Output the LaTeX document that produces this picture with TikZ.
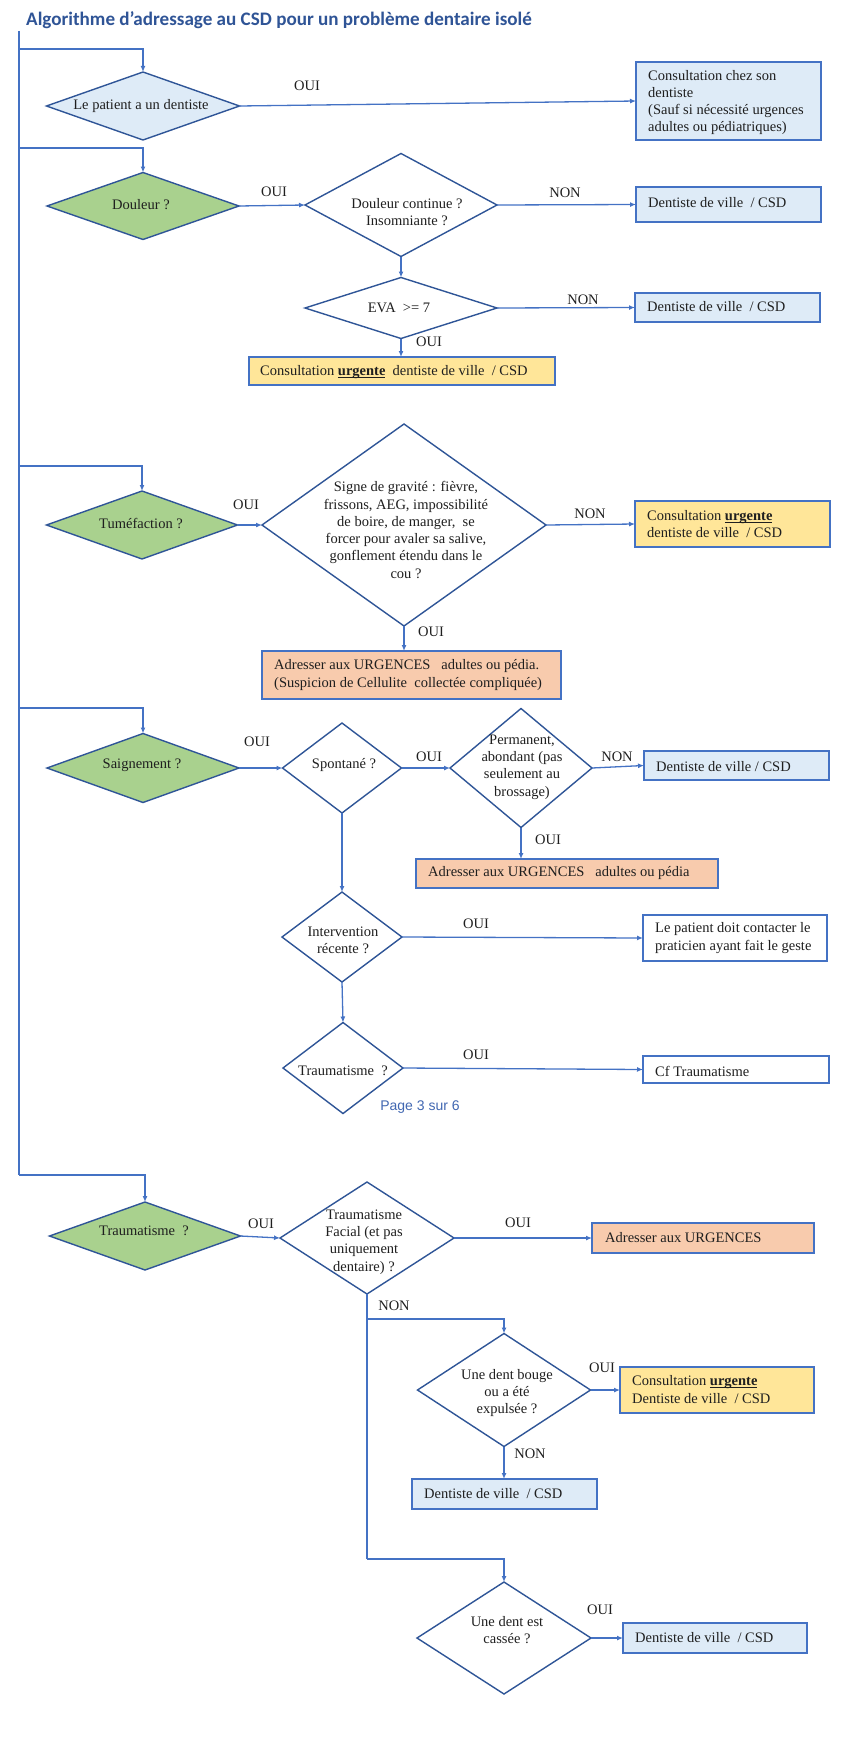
\documentclass[tikz,border=0pt]{standalone}
\usepackage{fontspec}
\setmainfont{Liberation Serif}
\newfontfamily\titlefont{Carlito}
\newfontfamily\pagefont{Liberation Sans}
\usetikzlibrary{shapes.geometric,arrows.meta,fit}
\definecolor{lnc}{HTML}{4472C4}
\definecolor{dkc}{HTML}{2F5597}
\definecolor{lbc}{HTML}{DEEBF7}
\definecolor{grc}{HTML}{A9D18E}
\definecolor{yec}{HTML}{FFE699}
\definecolor{orc}{HTML}{F8CBAD}
\definecolor{ttlc}{HTML}{2F5496}
\definecolor{pgc}{HTML}{4167B1}
\newsavebox\urgbox
\newcommand\urg{\sbox\urgbox{\textbf{urgente}}\usebox\urgbox\llap{\rule[-2.2pt]{\wd\urgbox}{0.9pt}}}
\begin{document}
\begin{tikzpicture}[x=1pt,y=-1pt,
 dia/.style={diamond, draw=dkc, line width=1.4pt, inner sep=0pt, outer sep=0pt},
 bx/.style={rectangle, draw=lnc, line width=1.3pt, inner sep=0pt, outer sep=0pt},
 tx/.style={inner sep=0pt, align=center, font=\fontsize{14.5}{17.3}\selectfont, text=black!88},
 txl/.style={tx, anchor=west, align=left},
 arr/.style={draw=lnc, line width=1.3pt, -{Latex[length=6pt,width=5pt]}},
 conn/.style={draw=lnc, line width=1.3pt}]
\useasboundingbox (0,0) rectangle (850,1758);

% title
\node[anchor=west, inner sep=0pt, text=ttlc, font=\titlefont\bfseries\fontsize{19.1}{22}\selectfont] (title) at (26,20) {Algorithme d’adressage au CSD pour un problème dentaire isolé};

% ---------- row 1
\node[dia, fill=lbc, minimum width=193pt, minimum height=68pt] (d1) at (143,106) {};
\node[tx] (d1t) at (141,106) {Le patient a un dentiste};
\node[bx, fill=lbc, fit={(636,62) (821,140)}] (b1) {};
\node[txl] (b1t) at (648,102.5) {Consultation chez son\\dentiste\\(Sauf si nécessité urgences\\adultes ou pédiatriques)};
\node[tx] (l1) at (307,86) {OUI};

% ---------- row 2
\node[dia, fill=grc, minimum width=192pt, minimum height=67pt] (g2) at (143,206) {};
\node[tx] (g2t) at (141,205) {Douleur ?};
\node[dia, fill=white, minimum width=192pt, minimum height=103pt] (q2a) at (401,205) {};
\node[tx] (q2at) at (407,212) {Douleur continue ?\\Insomniante ?};
\node[bx, fill=lbc, fit={(636,187) (821,222)}] (b2a) {};
\node[txl] (b2at) at (648,203) {Dentiste de ville \ / CSD};
\node[dia, fill=white, minimum width=192pt, minimum height=61pt] (q2b) at (401,308) {};
\node[tx] (q2bt) at (399,308) {EVA \ >= 7};
\node[bx, fill=lbc, fit={(635,293) (820,322)}] (b2b) {};
\node[txl] (b2bt) at (647,307) {Dentiste de ville \ / CSD};
\node[bx, fill=yec, fit={(249,357) (555,385)}] (y2) {};
\node[txl] (y2t) at (260,372) {Consultation \urg{} \ dentiste de ville \ / CSD};
\node[tx] (l2a) at (274,192) {OUI};
\node[tx] (l2b) at (565,193) {NON};
\node[tx] (l2c) at (583,300) {NON};
\node[tx] (l2d) at (429,342) {OUI};

% ---------- row 3
\node[dia, fill=grc, minimum width=191pt, minimum height=68pt] (g3) at (142,525) {};
\node[tx] (g3t) at (141,523) {Tuméfaction ?};
\node[dia, fill=white, minimum width=284pt, minimum height=202pt] (q3) at (404,525) {};
\node[tx] (q3t) at (406,530) {Signe de gravité : fièvre,\\frissons, AEG, impossibilité\\de boire, de manger, \ se\\forcer pour avaler sa salive,\\gonflement étendu dans le\\cou ?};
\node[bx, fill=yec, fit={(635,501) (830,547)}] (b3) {};
\node[txl] (b3t) at (647,524) {Consultation \urg\\dentiste de ville \ / CSD};
\node[bx, fill=orc, fit={(262,651) (561,699)}] (o3) {};
\node[txl] (o3t) at (274,675) {Adresser aux URGENCES \ \ adultes ou pédia.\\(Suspicion de Cellulite \ collectée compliquée)};
\node[tx] (l3a) at (246,505) {OUI};
\node[tx] (l3b) at (590,514) {NON};
\node[tx] (l3c) at (431,632) {OUI};

% ---------- row 4
\node[dia, fill=grc, minimum width=192pt, minimum height=69pt] (g4) at (143,768) {};
\node[tx] (g4t) at (142,765) {Saignement ?};
\node[dia, fill=white, minimum width=119pt, minimum height=90pt] (q4a) at (342,768) {};
\node[tx] (q4at) at (344,765) {Spontané ?};
\node[dia, fill=white, minimum width=142pt, minimum height=119pt] (q4b) at (521,768) {};
\node[tx] (q4bt) at (522,767) {Permanent,\\abondant (pas\\seulement au\\brossage)};
\node[bx, fill=lbc, fit={(644,751) (829,780)}] (b4a) {};
\node[txl] (b4at) at (656,767) {Dentiste de ville / CSD};
\node[bx, fill=orc, fit={(416,859) (718,888)}] (o4) {};
\node[txl] (o4t) at (428,873) {Adresser aux URGENCES \ \ adultes ou pédia};
\node[dia, fill=white, minimum width=120pt, minimum height=90pt] (q4c) at (342,937) {};
\node[tx] (q4ct) at (343,940) {Intervention\\récente ?};
\node[bx, fill=white, fit={(643,915) (827,961)}] (b4c) {};
\node[txl] (b4ct) at (655,938) {Le patient doit contacter le\\praticien ayant fait le geste};
\node[dia, fill=white, minimum width=120pt, minimum height=91pt] (q4d) at (343,1068) {};
\node[tx] (q4dt) at (343,1071) {Traumatisme \ ?};
\node[bx, fill=white, fit={(643,1056) (829,1083)}] (b4d) {};
\node[txl] (b4dt) at (655,1071) {Cf Traumatisme};
\node[inner sep=0pt, text=pgc, font=\pagefont\fontsize{14}{16}\selectfont] (page) at (420,1107) {Page 3 sur 6};
\node[tx] (l4a) at (257,742) {OUI};
\node[tx] (l4b) at (429,757) {OUI};
\node[tx] (l4c) at (617,757) {NON};
\node[tx] (l4d) at (548,840) {OUI};
\node[tx] (l4e) at (476,924) {OUI};
\node[tx] (l4f) at (476,1055) {OUI};

% ---------- row 5
\node[dia, fill=grc, minimum width=191pt, minimum height=68pt] (g5) at (145,1236) {};
\node[tx] (g5t) at (144,1231) {Traumatisme \ ?};
\node[dia, fill=white, minimum width=174pt, minimum height=112pt] (q5a) at (367,1238) {};
\node[tx] (q5at) at (364,1242) {Traumatisme\\Facial (et pas\\uniquement\\dentaire) ?};
\node[bx, fill=orc, fit={(592,1223) (814,1253)}] (o5) {};
\node[txl] (o5t) at (605,1238) {Adresser aux URGENCES};
\node[dia, fill=white, minimum width=173pt, minimum height=113pt] (q5b) at (504,1390) {};
\node[tx] (q5bt) at (507,1393) {Une dent bouge\\ou a été\\expulsée ?};
\node[bx, fill=yec, fit={(620,1367) (814,1413)}] (y5) {};
\node[txl] (y5t) at (632,1389.5) {Consultation \urg\\Dentiste de ville \ / CSD};
\node[bx, fill=lbc, fit={(412,1479) (597,1509)}] (b5b) {};
\node[txl] (b5bt) at (424,1494) {Dentiste de ville \ / CSD};
\node[dia, fill=white, minimum width=174pt, minimum height=112pt] (q5c) at (504,1638) {};
\node[tx] (q5ct) at (507,1630) {Une dent est\\cassée ?};
\node[bx, fill=lbc, fit={(623,1623) (807,1653)}] (b5c) {};
\node[txl] (b5ct) at (635,1638) {Dentiste de ville \ / CSD};
\node[tx] (l5a) at (261,1224) {OUI};
\node[tx] (l5b) at (518,1223) {OUI};
\node[tx] (l5c) at (394,1306) {NON};
\node[tx] (l5d) at (602,1368) {OUI};
\node[tx] (l5e) at (530,1454) {NON};
\node[tx] (l5f) at (600,1610) {OUI};

% ---------- trunk and branches
\coordinate (top) at (19,31);
\coordinate (br1) at (19,49);
\coordinate (br2) at (19,148);
\coordinate (br3) at (19,466);
\coordinate (br4) at (19,708);
\coordinate (br5) at (19,1175);
\draw[conn] (top) -- (br5);
\draw[arr] (br1) -| (d1.north);
\draw[arr] (br2) -| (g2.north);
\draw[arr] (br3) -| (g3.north);
\draw[arr] (br4) -| (g4.north);
\draw[arr] (br5) -| (g5.north);

% ---------- connectors
\draw[arr] (d1.east) -- (b1.west);
\draw[arr] (g2.east) -- (q2a.west);
\draw[arr] (q2a.east) -- (b2a.west);
\draw[arr] (q2a.south) -- (q2b.north);
\draw[arr] (q2b.east) -- (b2b.west);
\draw[arr] (q2b.south) -- (q2b.south |- y2.north);
\draw[arr] (g3.east) -- (q3.west);
\draw[arr] (q3.east) -- (b3.west);
\draw[arr] (q3.south) -- (q3.south |- o3.north);
\draw[arr] (g4.east) -- (q4a.west);
\draw[arr] (q4a.east) -- (q4b.west);
\draw[arr] (q4b.east) -- (b4a.west);
\draw[arr] (q4b.south) -- (q4b.south |- o4.north);
\draw[arr] (q4a.south) -- (q4c.north);
\draw[arr] (q4c.east) -- (b4c.west);
\draw[arr] (q4c.south) -- (q4d.north);
\draw[arr] (q4d.east) -- (b4d.west);
\draw[arr] (g5.east) -- (q5a.west);
\draw[arr] (q5a.east) -- (o5.west);
\coordinate (c1) at (367,1319);
\coordinate (c2) at (367,1559);
\draw[conn] (q5a.south) -- (c2);
\draw[arr] (c1) -| (q5b.north);
\draw[arr] (c2) -| (q5c.north);
\draw[arr] (q5b.east) -- (y5.west);
\draw[arr] (q5b.south) -- (q5b.south |- b5b.north);
\draw[arr] (q5c.east) -- (b5c.west);
\end{tikzpicture}
\end{document}
